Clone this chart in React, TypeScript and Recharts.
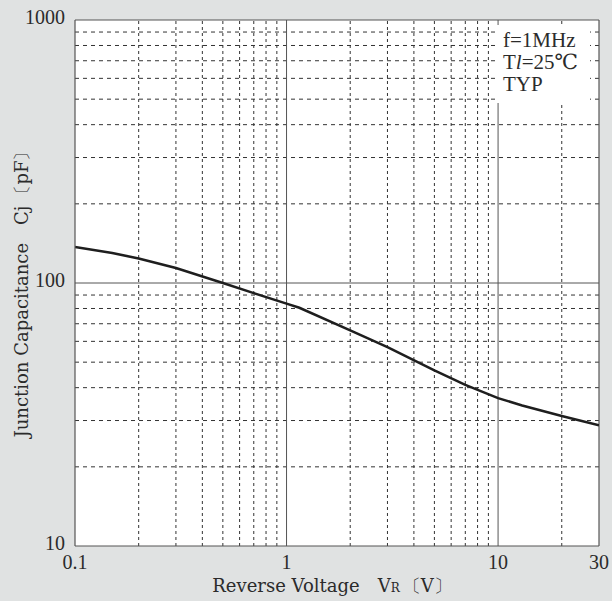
import React from "react"
import { LineChart, Line, XAxis, YAxis, CartesianGrid, ReferenceLine } from "recharts"

// reverse voltage [V] vs junction capacitance [pF]
const voltage = [0.1, 0.15, 0.2, 0.3, 0.5, 0.7, 1, 1.15, 2, 3, 5, 7, 10, 13, 20, 30]
const capacitance = [137, 130, 124, 114, 100, 91.5, 83.5, 80.5, 66, 57, 46.5, 41, 36.5, 34.2, 31.2, 28.8]

const xTicks = [0.1, 1, 10, 30]
const yTicks = [10, 100, 1000]
const xMajor = [1, 10]
const xMinor = [0.2, 0.3, 0.4, 0.5, 0.6, 0.7, 0.8, 0.9, 2, 3, 4, 5, 6, 7, 8, 9, 20]
const yMajor = [100]
const yMinor = [20, 30, 40, 50, 60, 70, 80, 90, 200, 300, 400, 500, 600, 700, 800, 900]
const notes = ["f=1MHz", "Tl=25℃", "TYP"]

const data = voltage.map((v, i) => ({ v, c: capacitance[i] }))

const FONT = "'Liberation Serif', 'DejaVu Serif', serif"
const TITLE_FONT = "'DejaVu Serif', 'Liberation Serif', serif"
const TEXT = "#2b2b2b"

const XTick = (props: any) => {
  const { x, y, payload } = props
  return (
    <text x={x} y={y + 15} textAnchor="middle" fontFamily={FONT} fontSize={20} fill={TEXT}>
      {payload.value}
    </text>
  )
}

const YTick = (props: any) => {
  const { x, y, payload } = props
  return (
    <text x={x - 2} y={y + 4} textAnchor="end" fontFamily={FONT} fontSize={20} fill={TEXT}>
      {payload.value}
    </text>
  )
}

export default function App() {
  return (
    <div style={{ position: "absolute", left: 0, top: 0, width: 612, height: 601, background: "#e0e2e2" }}>
      <LineChart width={612} height={601} data={data} margin={{ top: 20, right: 13, bottom: 0, left: 0 }}>
        <CartesianGrid fill="#ffffff" horizontal={false} vertical={false} />
        {xMinor.map((x) => (
          <ReferenceLine key={`xm${x}`} x={x} stroke="#333" strokeWidth={1} strokeDasharray="3 3" />
        ))}
        {yMinor.map((y) => (
          <ReferenceLine key={`ym${y}`} y={y} stroke="#333" strokeWidth={1} strokeDasharray="4 4" />
        ))}
        {xMajor.map((x) => (
          <ReferenceLine key={`xM${x}`} x={x} stroke="#555" strokeWidth={1} />
        ))}
        {yMajor.map((y) => (
          <ReferenceLine key={`yM${y}`} y={y} stroke="#555" strokeWidth={1} />
        ))}
        <ReferenceLine x={30} stroke="#555" strokeWidth={1.2} />
        <ReferenceLine y={1000} stroke="#555" strokeWidth={1.2} />
        <XAxis
          dataKey="v"
          type="number"
          scale="log"
          domain={[0.1, 30]}
          ticks={xTicks}
          allowDataOverflow
          height={55}
          tickLine={false}
          axisLine={{ stroke: "#555", strokeWidth: 1.2 }}
          tick={<XTick />}
          interval={0}
          label={{
            content: () => (
              <text x={332} y={592} textAnchor="middle" fontFamily={TITLE_FONT} fontSize={18} fill={TEXT}>
                Reverse Voltage<tspan dx={18}>V</tspan>
                <tspan fontSize={12}>R</tspan>
                <tspan dx={3}>〔V〕</tspan>
              </text>
            ),
          }}
        />
        <YAxis
          type="number"
          scale="log"
          domain={[10, 1000]}
          ticks={yTicks}
          allowDataOverflow
          width={75}
          tickLine={false}
          axisLine={{ stroke: "#555", strokeWidth: 1.2 }}
          tick={<YTick />}
          interval={0}
          label={{
            content: () => (
              <text
                x={0}
                y={0}
                transform="translate(28,290) rotate(-90)"
                textAnchor="middle"
                fontFamily={TITLE_FONT}
                fontSize={18}
                fill={TEXT}
              >
                Junction Capacitance<tspan dx={18}>Cj</tspan>
                <tspan dx={3}>〔pF〕</tspan>
              </text>
            ),
          }}
        />
        <Line
          dataKey="c"
          type="linear"
          stroke="#1e1e1e"
          strokeWidth={2.5}
          dot={false}
          isAnimationActive={false}
        />
      </LineChart>
      <div
        style={{
          position: "absolute",
          left: 496,
          top: 25,
          width: 94,
          height: 78,
          background: "#fff",
          fontFamily: FONT,
          fontSize: 21,
          color: TEXT,
          lineHeight: "22px",
          paddingLeft: 7,
          paddingTop: 4,
          boxSizing: "border-box",
        }}
      >
        <div>{notes[0]}</div>
        <div>
          T<i>l</i>
          {notes[1].slice(2)}
        </div>
        <div>{notes[2]}</div>
      </div>
    </div>
  )
}
